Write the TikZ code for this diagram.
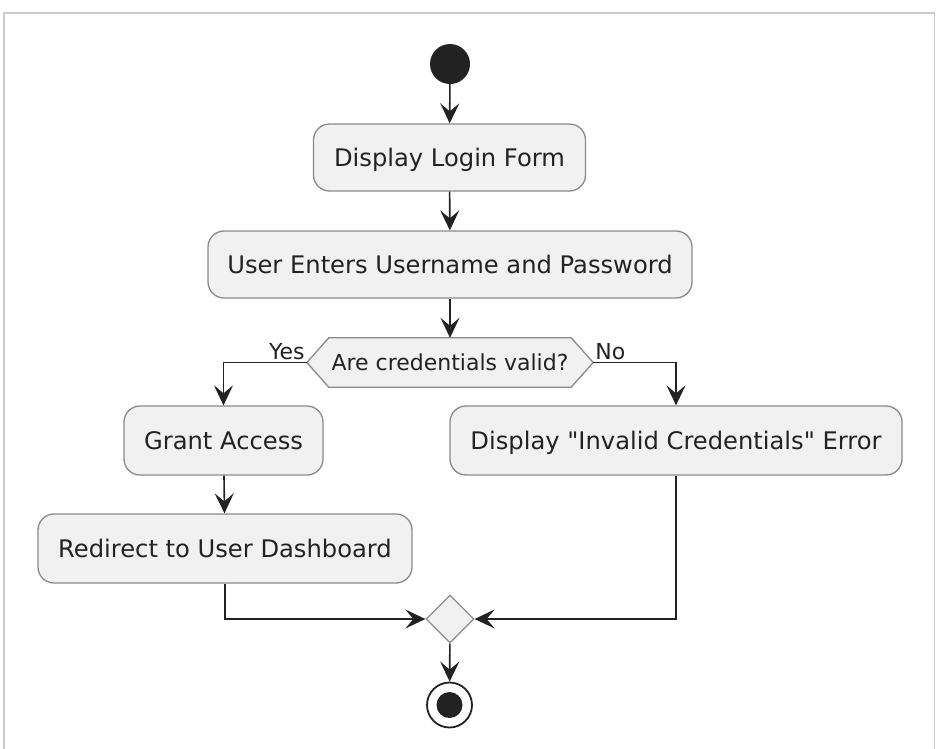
\documentclass[tikz,border=0pt]{standalone}
\usepackage{fontspec}
\setmainfont{DejaVu Sans}[Ligatures=TeXOff]
\usetikzlibrary{arrows.meta,shapes.geometric,backgrounds,calc}
\definecolor{boxfill}{HTML}{F1F1F1}
\definecolor{boxline}{HTML}{8A8A8A}
\definecolor{ink}{HTML}{222222}
\definecolor{frame}{HTML}{CCCCCC}
\begin{document}
\begin{tikzpicture}[x=1pt,y=-1pt,
  actbox/.style={draw=boxline, fill=boxfill, line width=1.3pt, rounded corners=16pt,
    inner sep=0pt, text=ink, text height=21.5pt, text depth=4.5pt, font=\fontsize{24.2}{28}\selectfont},
  arr/.style={draw=ink, line width=1.6pt, -{Stealth[length=20pt,width=19pt,inset=8pt]}},
  lbl/.style={text=ink, font=\fontsize{22}{26}\selectfont, inner sep=0pt}]
\useasboundingbox (0,0) rectangle (936,748);
\draw[frame, line width=1.6pt] (4,760) -- (4,13) -- (934.5,13) -- (934.5,760);

\node[circle, fill=ink, minimum size=40pt, inner sep=0pt] (start) at (450,64) {};
\node[actbox, minimum width=272pt, minimum height=67pt] (b1) at (449.5,157.5) {Display Login Form};
\node[actbox, minimum width=484pt, minimum height=67pt] (b2) at (450,264.5) {User Enters Username and Password};
\node[lbl, minimum width=286pt, minimum height=49pt] (dec) at (450,362.5) {Are credentials valid?};
\begin{scope}[on background layer]
\draw[draw=boxline, fill=boxfill, line width=1.3pt]
  (dec.west) -- ($(dec.north west)+(22,0)$) -- ($(dec.north east)+(-22,0)$) -- (dec.east)
  -- ($(dec.south east)+(-22,0)$) -- ($(dec.south west)+(22,0)$) -- cycle;
\end{scope}
\node[actbox, minimum width=199pt, minimum height=69pt] (grant) at (223.5,440.5) {Grant Access};
\node[actbox, minimum width=452pt, minimum height=69pt] (err) at (676,440.5) {Display "Invalid Credentials" Error};
\node[actbox, minimum width=374pt, minimum height=69pt] (redir) at (225,548.5) {Redirect to User Dashboard};
\node[diamond, draw=boxline, fill=boxfill, line width=1.3pt, inner sep=0pt, minimum width=48pt, minimum height=48pt] (merge) at (450,619) {};
\node[circle, draw=ink, line width=1.8pt, minimum size=45pt, inner sep=0pt] (stop) at (449.5,705) {};
\node[circle, fill=ink, minimum size=26pt, inner sep=0pt] (stopdot) at (stop.center) {};

\draw[arr] (start) -- (b1);
\draw[arr] (b1) -- (b2);
\draw[arr] (b2) -- (dec.north);
\draw[arr] (dec.west) -| (grant.north);
\draw[arr] (dec.east) -| (err.north);
\node[lbl, anchor=south east] (yes) at ($(dec.west)+(-2,-2)$) {Yes};
\node[lbl, anchor=south west] (no) at ($(dec.east)+(2,-2)$) {No};
\draw[arr] (grant) -- (redir);
\draw[arr] (redir.south) |- (merge.west);
\draw[arr] (err.south) |- (merge.east);
\draw[arr] (merge) -- (stop);
\end{tikzpicture}
\end{document}
